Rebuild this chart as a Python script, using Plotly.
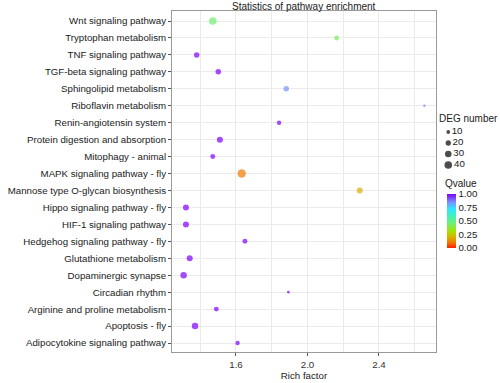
import plotly.graph_objects as go

pathways = [
    "Wnt signaling pathway", "Tryptophan metabolism", "TNF signaling pathway",
    "TGF-beta signaling pathway", "Sphingolipid metabolism", "Riboflavin metabolism",
    "Renin-angiotensin system", "Protein digestion and absorption", "Mitophagy - animal",
    "MAPK signaling pathway - fly", "Mannose type O-glycan biosynthesis",
    "Hippo signaling pathway - fly", "HIF-1 signaling pathway",
    "Hedgehog signaling pathway - fly", "Glutathione metabolism", "Dopaminergic synapse",
    "Circadian rhythm", "Arginine and proline metabolism", "Apoptosis - fly",
    "Adipocytokine signaling pathway",
]
rich_factor = [1.470, 2.163, 1.380, 1.501, 1.881, 2.654, 1.841, 1.510, 1.470, 1.632,
               2.292, 1.320, 1.320, 1.650, 1.341, 1.307, 1.893, 1.490, 1.371, 1.609]
deg_number = [40, 17, 21, 21, 21, 4, 14, 25, 17, 48,
              25, 25, 25, 17, 25, 29, 5, 17, 29, 14]
qvalue = [0.45, 0.42, 1.0, 1.0, 0.85, 0.88, 1.0, 1.0, 1.0, 0.1,
          0.2, 1.0, 1.0, 1.0, 1.0, 1.0, 1.0, 1.0, 1.0, 1.0]
size_breaks = [10, 20, 30, 40]
q_ticks = [0.0, 0.25, 0.5, 0.75, 1.0]
x_ticks = [1.6, 2.0, 2.4]

colorscale = [[0, '#FF2000'], [0.1, '#F07800'], [0.2, '#D8B000'], [0.3, '#A8E000'],
              [0.45, '#70F070'], [0.6, '#40F0C0'], [0.72, '#30E8FF'], [0.85, '#7890FF'],
              [1, '#8000FF']]

SIZEREF = 1.389
FONT = "Liberation Sans, Arial, sans-serif"
TXT = "#1a1a1a"
FS = 9.7

W, H = 500, 383
ML, MR, MT, MB = 172, 4, 11, 31
pw = W - ML - MR
ph = H - MT - MB
def px_x(p):
    return (p - ML) / pw
def px_y(p):
    return (H - MB - p) / ph

fig = go.Figure()
fig.add_trace(go.Scatter(
    x=rich_factor, y=pathways, mode="markers",
    marker=dict(size=deg_number, sizemode="area", sizeref=SIZEREF,
                color=qvalue, cmin=0, cmax=1, colorscale=colorscale,
                line=dict(width=0),
                colorbar=dict(x=px_x(447), xanchor="left", y=px_y(221), yanchor="middle",
                              lenmode="pixels", len=54, thickness=9, outlinewidth=0,
                              tickvals=q_ticks, ticktext=[f"{v:.2f}" for v in q_ticks],
                              ticks="", xpad=0, ypad=0,
                              tickfont=dict(size=FS, color=TXT, family=FONT))),
    showlegend=False, hoverinfo="x+y",
))

# size legend drawn as a small scatter on its own axes
fig.add_trace(go.Scatter(
    x=[0] * len(size_breaks), y=size_breaks, mode="markers+text",
    text=[str(v) for v in size_breaks], textposition="middle right",
    textfont=dict(size=FS, color=TXT, family=FONT),
    marker=dict(size=size_breaks, sizemode="area", sizeref=SIZEREF, color="black",
                line=dict(width=0)),
    xaxis="x2", yaxis="y2", showlegend=False, hoverinfo="skip", cliponaxis=False,
))

fig.update_layout(
    width=W, height=H,
    margin=dict(l=ML, r=MR, t=MT, b=MB, autoexpand=False),
    paper_bgcolor="white", plot_bgcolor="white",
    font=dict(family=FONT, size=FS, color=TXT),
    xaxis=dict(domain=[0, px_x(436)], range=[1.242, 2.719], automargin=False,
               tickvals=x_ticks, ticktext=[f"{v:.1f}" for v in x_ticks],
               showgrid=True, gridcolor="#EBEBEB", gridwidth=1,
               minor=dict(dtick=0.2, tick0=1.4, showgrid=True, gridcolor="#EBEBEB", gridwidth=1),
               showline=True, linecolor="#9a9a9a", linewidth=1, mirror=True,
               ticks="outside", ticklen=3, tickcolor="#555",
               tickfont=dict(size=FS, color="#333"),
               title=dict(text="Rich factor", standoff=1, font=dict(size=FS, color=TXT)),
               zeroline=False),
    yaxis=dict(type="category", categoryarray=pathways, range=[19.53, -0.59], automargin=False,
               showgrid=True, gridcolor="#EBEBEB", gridwidth=1,
               showline=True, linecolor="#9a9a9a", linewidth=1, mirror=True,
               ticks="outside", ticklen=3, tickcolor="#555",
               tickfont=dict(size=FS, color=TXT), zeroline=False),
    xaxis2=dict(domain=[px_x(442), 1.0], range=[-1.05, 8], anchor="y2",
                visible=False, fixedrange=True),
    yaxis2=dict(domain=[px_y(170), px_y(127)], range=[44.5, 5.45], anchor="x2",
                visible=False, fixedrange=True),
    annotations=[
        dict(text="Statistics of pathway enrichment", x=px_x(304), y=1, xref="paper", yref="paper",
             xanchor="center", yanchor="bottom", yshift=-3, showarrow=False,
             font=dict(size=FS + 0.3, color=TXT)),
        dict(text="DEG number", x=px_x(437), y=px_y(118), xref="paper", yref="paper",
             xanchor="left", yanchor="middle", showarrow=False, font=dict(size=FS + 0.3, color=TXT)),
        dict(text="Qvalue", x=px_x(443), y=px_y(183), xref="paper", yref="paper",
             xanchor="left", yanchor="middle", showarrow=False, font=dict(size=FS + 0.3, color=TXT)),
    ],
)

fig.write_html("out.html", config={"displayModeBar": False},
               post_script="document.body.style.margin='0px';document.body.style.overflow='hidden';")
